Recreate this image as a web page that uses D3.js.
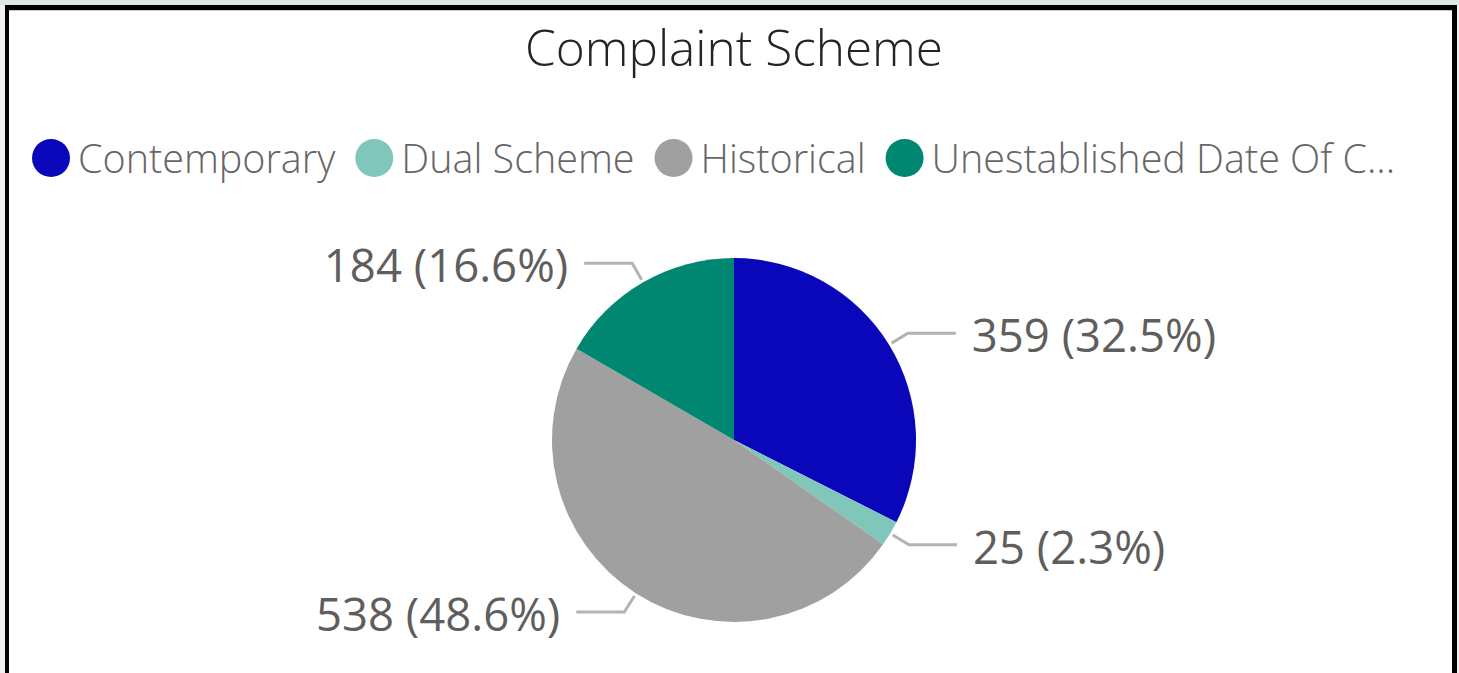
<!DOCTYPE html>
<html>
<head>
<meta charset="utf-8">
<script src="https://cdn.jsdelivr.net/npm/d3@7"></script>
<style>
  html, body { margin: 0; padding: 0; background: #f0f0f0; }
  svg { display: block; }
  text { font-family: "Segoe UI", "Open Sans", "Noto Sans", sans-serif; }
</style>
</head>
<body>
<div id="chart"></div>
<script>
// data
var categories = ["Contemporary", "Dual Scheme", "Historical", "Unestablished Date Of C..."];
var values = [359, 25, 538, 184];
var colors = ["#0a07bb", "#80c6bb", "#a0a0a0", "#008772"];

var W = 1459, H = 673;

var svg = d3.select("#chart").append("svg")
  .attr("width", W)
  .attr("height", H);

// outer frame
svg.append("rect").attr("x", 0).attr("y", 0).attr("width", W).attr("height", 5).attr("fill", "#dce8e4");
svg.append("rect").attr("x", 5).attr("y", 5).attr("width", 1452).attr("height", H).attr("fill", "#000");
svg.append("rect").attr("x", 9).attr("y", 10).attr("width", 1443).attr("height", H).attr("fill", "#fff");
svg.append("line").attr("x1", 9).attr("x2", 1452).attr("y1", 10.5).attr("y2", 10.5)
  .attr("stroke", "#c8c8c8").attr("stroke-width", 1);

// title
svg.append("text")
  .attr("x", 734).attr("y", 47)
  .attr("text-anchor", "middle")
  .attr("dominant-baseline", "central")
  .style("font-size", "49.5px")
  .style("font-weight", 300)
  .style("fill", "#252423")
  .text("Complaint Scheme");

// legend
var legend = svg.append("g").attr("transform", "translate(32,158)");
var lx = 0;
categories.forEach(function(c, i) {
  var g = legend.append("g").attr("transform", "translate(" + lx + ",0)");
  g.append("circle").attr("cx", 19).attr("cy", 0).attr("r", 19).attr("fill", colors[i]);
  var t = g.append("text")
    .attr("x", 46).attr("y", 0)
    .attr("dominant-baseline", "central")
    .style("font-size", "39.5px")
    .style("font-weight", 300)
    .style("fill", "#666666")
    .text(c);
  lx += 46 + t.node().getComputedTextLength() + 20;
});

// pie
var cx = 734, cy = 440, r = 182;
var pie = d3.pie().sort(null).value(function(d) { return d; });
var arc = d3.arc().innerRadius(0).outerRadius(r);
var arcs = pie(values);

var pg = svg.append("g").attr("transform", "translate(" + cx + "," + cy + ")");
pg.selectAll("path.slice")
  .data(arcs)
  .enter().append("path")
  .attr("class", "slice")
  .attr("d", arc)
  .attr("fill", function(d, i) { return colors[i]; });

// leader lines + labels
var total = d3.sum(values);
var inner = d3.arc().innerRadius(r + 3).outerRadius(r + 3);
var elbow = d3.arc().innerRadius(r + 22).outerRadius(r + 22);

arcs.forEach(function(d, i) {
  var p1 = inner.centroid(d), p2 = elbow.centroid(d);
  var mid = (d.startAngle + d.endAngle) / 2;
  var side = mid < Math.PI ? 1 : -1;
  var p3 = [p2[0] + side * 48, p2[1]];
  pg.append("polyline")
    .attr("points", [p1, p2, p3].map(function(p) { return p.join(","); }).join(" "))
    .attr("fill", "none")
    .attr("stroke", "#b3b3b3")
    .attr("stroke-width", 3);
  pg.append("text")
    .attr("x", p3[0] + side * 16)
    .attr("y", p3[1] + 1)
    .attr("text-anchor", side > 0 ? "start" : "end")
    .attr("dominant-baseline", "central")
    .style("font-size", "45.5px")
    .style("fill", "#605e5c")
    .text(values[i] + " (" + d3.format(".1%")(values[i] / total) + ")");
});
</script>
</body>
</html>
